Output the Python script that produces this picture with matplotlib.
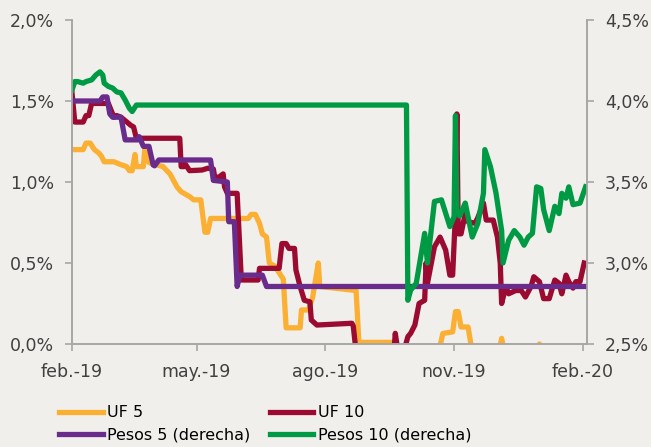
import matplotlib.pyplot as plt
import matplotlib.dates as mdates
from matplotlib.ticker import FuncFormatter
import pandas as pd

# UF 5 (eje izquierdo)
uf5_dates = ["2019-02-01", "2019-02-09", "2019-02-11", "2019-02-14", "2019-02-17", "2019-02-20",
             "2019-02-22", "2019-02-24", "2019-03-03", "2019-03-07", "2019-03-12", "2019-03-14",
             "2019-03-16", "2019-03-18", "2019-03-19", "2019-03-24", "2019-03-25", "2019-03-28",
             "2019-04-07", "2019-04-12", "2019-04-17", "2019-04-20", "2019-04-26", "2019-04-29",
             "2019-05-04", "2019-05-07", "2019-05-09", "2019-05-11", "2019-06-07", "2019-06-09",
             "2019-06-12", "2019-06-15", "2019-06-17", "2019-06-20", "2019-06-22", "2019-06-26",
             "2019-06-29", "2019-07-02", "2019-07-04", "2019-07-14", "2019-07-15", "2019-07-20",
             "2019-07-23", "2019-07-27", "2019-07-28", "2019-08-23", "2019-08-25", "2019-09-17",
             "2019-09-19", "2019-10-21", "2019-10-24", "2019-10-31", "2019-11-02", "2019-11-04",
             "2019-11-06", "2019-11-11", "2019-11-14", "2019-12-03", "2019-12-05", "2019-12-07",
             "2019-12-30", "2020-01-01", "2020-01-03", "2020-02-03"]
uf5_vals = [1.20, 1.20, 1.24, 1.24, 1.20, 1.18,
            1.16, 1.125, 1.125, 1.11, 1.095, 1.07,
            1.07, 1.17, 1.095, 1.095, 1.20, 1.12,
            1.095, 1.05, 0.97, 0.94, 0.91, 0.89,
            0.89, 0.69, 0.69, 0.775, 0.775, 0.80,
            0.80, 0.745, 0.68, 0.66, 0.50, 0.48,
            0.44, 0.40, 0.10, 0.10, 0.21, 0.21,
            0.29, 0.50, 0.355, 0.33, 0.01, 0.01,
            -0.10, -0.05, 0.065, 0.075, 0.20, 0.20,
            0.105, 0.105, -0.05, -0.05, 0.035, -0.05,
            -0.05, 0.0, -0.05, -0.05]

# UF 10 (eje izquierdo)
uf10_dates = ["2019-02-01", "2019-02-03", "2019-02-09", "2019-02-11", "2019-02-13", "2019-02-15",
              "2019-02-27", "2019-03-02", "2019-03-03", "2019-03-05", "2019-03-08", "2019-03-15",
              "2019-03-17", "2019-03-19", "2019-04-19", "2019-04-20", "2019-04-22", "2019-04-23",
              "2019-04-26", "2019-05-05", "2019-05-09", "2019-05-13", "2019-05-14", "2019-05-17",
              "2019-05-20", "2019-05-21", "2019-05-23", "2019-05-30", "2019-06-02", "2019-06-14",
              "2019-06-15", "2019-06-29", "2019-07-01", "2019-07-04", "2019-07-06", "2019-07-10",
              "2019-07-11", "2019-07-14", "2019-07-17", "2019-07-21", "2019-07-22", "2019-07-26",
              "2019-08-20", "2019-08-21", "2019-08-23", "2019-09-19", "2019-09-20", "2019-09-22",
              "2019-09-26", "2019-09-29", "2019-10-01", "2019-10-04", "2019-10-07", "2019-10-11",
              "2019-10-12", "2019-10-13", "2019-10-18", "2019-10-22", "2019-10-26", "2019-10-29",
              "2019-10-31", "2019-11-02", "2019-11-03", "2019-11-04", "2019-11-06", "2019-11-09",
              "2019-11-11", "2019-11-16", "2019-11-18", "2019-11-22", "2019-11-24", "2019-11-29",
              "2019-12-02", "2019-12-04", "2019-12-05", "2019-12-08", "2019-12-10", "2019-12-15",
              "2019-12-19", "2019-12-22", "2019-12-26", "2019-12-28", "2020-01-01", "2020-01-04",
              "2020-01-08", "2020-01-12", "2020-01-15", "2020-01-17", "2020-01-20", "2020-01-22",
              "2020-01-25", "2020-01-27", "2020-01-30", "2020-02-02"]
uf10_vals = [1.55, 1.37, 1.37, 1.41, 1.41, 1.485,
             1.485, 1.42, 1.40, 1.41, 1.40, 1.35,
             1.34, 1.27, 1.27, 1.095, 1.095, 1.11,
             1.07, 1.074, 1.085, 1.08, 1.03, 1.03,
             1.05, 0.97, 0.93, 0.93, 0.395, 0.395,
             0.467, 0.467, 0.62, 0.62, 0.59, 0.59,
             0.457, 0.355, 0.27, 0.26, 0.148, 0.117,
             0.128, 0.11, -0.05, -0.05, 0.066, -0.05,
             -0.05, 0.045, 0.066, 0.117, 0.25, 0.27,
             0.50, 0.375, 0.60, 0.66, 0.58, 0.425,
             0.425, 0.805, 1.42, 0.68, 0.68, 0.805,
             0.755, 0.745, 0.78, 0.87, 0.765, 0.765,
             0.66, 0.50, 0.25, 0.355, 0.31, 0.33,
             0.33, 0.29, 0.355, 0.415, 0.385, 0.28,
             0.28, 0.395, 0.375, 0.31, 0.425, 0.385,
             0.345, 0.385, 0.385, 0.50]

# Pesos 5 (eje derecho)
p5_dates = ["2019-02-01", "2019-02-21", "2019-02-23", "2019-02-26", "2019-02-28", "2019-03-02",
            "2019-03-08", "2019-03-11", "2019-03-20", "2019-03-21", "2019-03-24", "2019-03-28",
            "2019-03-31", "2019-04-01", "2019-04-04", "2019-05-11", "2019-05-13", "2019-05-23",
            "2019-05-24", "2019-05-28", "2019-05-30", "2019-06-01", "2019-06-17", "2019-06-20",
            "2020-02-03"]
p5_vals = [4.00, 4.00, 4.025, 4.025, 3.92, 3.90,
           3.90, 3.76, 3.76, 3.78, 3.72, 3.72,
           3.605, 3.60, 3.636, 3.636, 3.51, 3.50,
           3.255, 3.255, 2.855, 2.925, 2.925, 2.855,
           2.855]

# Pesos 10 (eje derecho)
p10_dates = ["2019-02-01", "2019-02-03", "2019-02-05", "2019-02-09", "2019-02-11", "2019-02-15",
             "2019-02-18", "2019-02-21", "2019-02-23", "2019-02-24", "2019-02-27", "2019-03-02",
             "2019-03-05", "2019-03-08", "2019-03-11", "2019-03-14", "2019-03-16", "2019-03-19",
             "2019-09-28", "2019-09-29", "2019-10-01", "2019-10-05", "2019-10-11", "2019-10-13",
             "2019-10-18", "2019-10-23", "2019-10-29", "2019-11-01", "2019-11-02", "2019-11-03",
             "2019-11-05", "2019-11-09", "2019-11-11", "2019-11-14", "2019-11-18", "2019-11-22",
             "2019-11-23", "2019-11-27", "2019-12-01", "2019-12-05", "2019-12-06", "2019-12-10",
             "2019-12-14", "2019-12-18", "2019-12-21", "2019-12-24", "2019-12-27", "2019-12-30",
             "2020-01-02", "2020-01-04", "2020-01-08", "2020-01-12", "2020-01-15", "2020-01-17",
             "2020-01-20", "2020-01-22", "2020-01-25", "2020-01-30", "2020-02-03"]
p10_vals = [4.068, 4.12, 4.12, 4.11, 4.12, 4.13,
            4.16, 4.18, 4.16, 4.11, 4.09, 4.08,
            4.056, 4.05, 4.006, 3.955, 3.935, 3.975,
            3.975, 2.77, 2.833, 2.875, 3.183, 3.00,
            3.38, 3.39, 3.225, 3.285, 3.91, 3.33,
            3.29, 3.37, 3.285, 3.16, 3.245, 3.43,
            3.70, 3.595, 3.43, 3.20, 3.00, 3.14,
            3.20, 3.16, 3.11, 3.16, 3.183, 3.47,
            3.46, 3.33, 3.20, 3.35, 3.305, 3.43,
            3.40, 3.47, 3.36, 3.37, 3.47]

tick_dates = ["2019-02-01", "2019-05-01", "2019-08-01", "2019-11-01", "2020-02-01"]
tick_labels = ["feb.-19", "may.-19", "ago.-19", "nov.-19", "feb.-20"]

bg = "#F0EFEB"
txt = "#404040"
axcol = "#A6A6A6"

fig = plt.figure(figsize=(6.51, 4.47), dpi=100, facecolor=bg)
ax = fig.add_axes([72 / 651, 1 - 344 / 447, 515 / 651, 324 / 447])
ax.set_facecolor(bg)
ax2 = ax.twinx()

lw = 3.8
l1, = ax.plot(pd.to_datetime(uf5_dates), uf5_vals, color="#FBB034", lw=lw, label="UF 5",
              solid_joinstyle="round")
l2, = ax.plot(pd.to_datetime(uf10_dates), uf10_vals, color="#9B0A30", lw=lw, label="UF 10",
              solid_joinstyle="round")
l3, = ax2.plot(pd.to_datetime(p5_dates), p5_vals, color="#6A2C8C", lw=lw,
               label="Pesos 5 (derecha)", solid_joinstyle="round")
l4, = ax2.plot(pd.to_datetime(p10_dates), p10_vals, color="#009A44", lw=lw,
               label="Pesos 10 (derecha)", solid_joinstyle="round")

ax.set_ylim(0, 2.0)
ax2.set_ylim(2.5, 4.5)
ax.set_yticks([0, 0.5, 1.0, 1.5, 2.0])
ax2.set_yticks([2.5, 3.0, 3.5, 4.0, 4.5])
fmt = FuncFormatter(lambda v, p: f"{v:.1f}%".replace(".", ","))
ax.yaxis.set_major_formatter(fmt)
ax2.yaxis.set_major_formatter(fmt)

ax.set_xlim(pd.Timestamp("2019-02-01"), pd.Timestamp("2020-02-04"))
ax.set_xticks(pd.to_datetime(tick_dates))
ax.set_xticklabels(tick_labels)

for a in (ax, ax2):
    for s in a.spines.values():
        s.set_color(axcol)
        s.set_linewidth(1.2)
    a.spines["top"].set_visible(False)
    a.tick_params(colors=axcol, labelcolor=txt, labelsize=12.5, length=5, width=1.2)
ax.tick_params(axis="y", pad=8)
ax2.tick_params(axis="y", pad=8)
ax.tick_params(axis="x", pad=9)

fig.legend([l1, l3, l2, l4], ["UF 5", "Pesos 5 (derecha)", "UF 10", "Pesos 10 (derecha)"],
           loc="upper left", bbox_to_anchor=(45 / 651, 1 - 391 / 447), ncol=2,
           frameon=False, fontsize=11.5, handlelength=2.7, handletextpad=0.3,
           columnspacing=1.2, labelspacing=0.45, labelcolor="black")

fig.savefig("out.png", dpi=100, facecolor=bg)
